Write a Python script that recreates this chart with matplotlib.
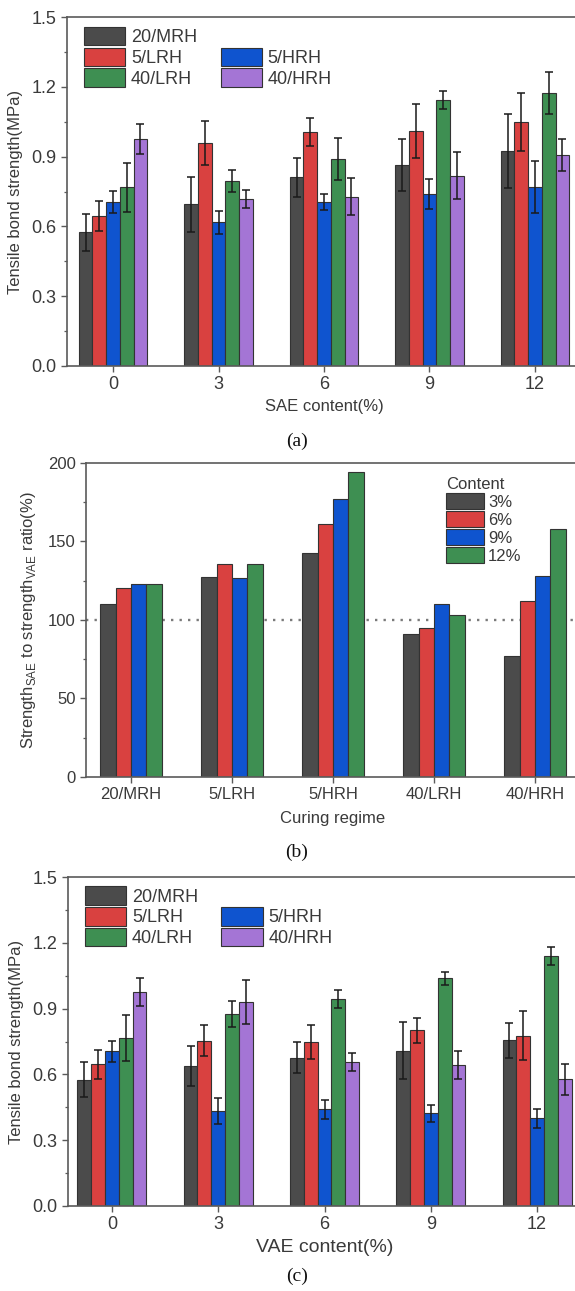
import numpy as np
import matplotlib.pyplot as plt
from matplotlib.patches import Patch
from matplotlib.ticker import MultipleLocator

plt.rcParams['font.family'] = ['Liberation Sans', 'DejaVu Sans']

# ---- data ----
regimes  = ['20/MRH', '5/LRH', '5/HRH', '40/LRH', '40/HRH']
contents = [0, 3, 6, 9, 12]

# tensile bond strength with SAE (MPa), one list per curing regime
sae_mrh20 = [0.575, 0.696, 0.811, 0.864, 0.924]
sae_lrh5  = [0.646, 0.957, 1.007, 1.010, 1.047]
sae_hrh5  = [0.705, 0.617, 0.705, 0.739, 0.769]
sae_lrh40 = [0.768, 0.795, 0.890, 1.143, 1.172]
sae_hrh40 = [0.975, 0.718, 0.728, 0.818, 0.907]

sae_err_mrh20 = [0.080, 0.118, 0.085, 0.110, 0.160]
sae_err_lrh5  = [0.065, 0.095, 0.060, 0.115, 0.125]
sae_err_hrh5  = [0.048, 0.050, 0.036, 0.065, 0.110]
sae_err_lrh40 = [0.105, 0.047, 0.092, 0.038, 0.090]
sae_err_hrh40 = [0.065, 0.040, 0.078, 0.100, 0.070]

# tensile bond strength with VAE (MPa)
vae_mrh20 = [0.575, 0.638, 0.676, 0.707, 0.756]
vae_lrh5  = [0.646, 0.754, 0.746, 0.801, 0.777]
vae_hrh5  = [0.705, 0.433, 0.440, 0.422, 0.399]
vae_lrh40 = [0.768, 0.874, 0.943, 1.039, 1.139]
vae_hrh40 = [0.975, 0.932, 0.656, 0.643, 0.577]

vae_err_mrh20 = [0.080, 0.093, 0.070, 0.130, 0.080]
vae_err_lrh5  = [0.065, 0.070, 0.078, 0.058, 0.110]
vae_err_hrh5  = [0.048, 0.058, 0.045, 0.040, 0.045]
vae_err_lrh40 = [0.105, 0.060, 0.042, 0.030, 0.040]
vae_err_hrh40 = [0.065, 0.100, 0.040, 0.062, 0.070]

# SAE / VAE strength ratio (%) for each content level
ratio_labels = ['3%', '6%', '9%', '12%']
ratio_3  = [110.1, 127.4, 142.7, 91.4, 77.3]
ratio_6  = [120.1, 135.9, 161.2, 94.6, 111.9]
ratio_9  = [123.1, 126.7, 176.9, 110.1, 128.1]
ratio_12 = [123.1, 135.4, 194.1, 103.2, 158.2]

colors = ['#4b4b4b', '#d94140', '#0f54cf', '#3e8f52', '#a475d5']
txt = '#3a3a3a'
spine_c = '#5a5a5a'

fig = plt.figure(figsize=(5.75, 12.91), dpi=100)


def style_axes(ax):
    for s in ['left', 'bottom', 'top', 'right']:
        ax.spines[s].set_color(spine_c)
        ax.spines[s].set_linewidth(1.2)
    ax.tick_params(axis='both', which='major', direction='out', length=4,
                   width=1.0, color=spine_c, labelcolor=txt)
    ax.tick_params(axis='y', which='minor', direction='out', length=2.5,
                   width=0.9, color=spine_c)
    ax.tick_params(axis='x', which='minor', bottom=False)


def strength_panel(rect, series, errs, xlabel, xlim, xlab_size):
    ax = fig.add_axes(rect)
    w = 0.39
    for i, (vals, err) in enumerate(zip(series, errs)):
        x = np.array(contents) + (i - 2) * w
        ax.bar(x, vals, width=w, color=colors[i], edgecolor='#333333',
               linewidth=0.8, label=regimes[i], zorder=2)
        ax.errorbar(x, vals, yerr=err, fmt='none', ecolor='#1a1a1a',
                    elinewidth=1.1, capsize=3, capthick=1.1, zorder=3)
    ax.set_xlim(*xlim)
    ax.set_ylim(0, 1.5)
    ax.set_xticks(contents)
    ax.set_yticks([0.0, 0.3, 0.6, 0.9, 1.2, 1.5])
    ax.yaxis.set_minor_locator(MultipleLocator(0.15))
    ax.set_yticklabels(['0.0', '0.3', '0.6', '0.9', '1.2', '1.5'])
    style_axes(ax)
    ax.tick_params(labelsize=13)
    ax.set_ylabel('Tensile bond strength(MPa)', fontsize=12, color=txt, labelpad=6)
    ax.set_xlabel(xlabel, fontsize=xlab_size, color=txt, labelpad=4)

    h, l = ax.get_legend_handles_labels()
    blank = Patch(facecolor='none', edgecolor='none', label=' ')
    hh = [h[0], h[1], h[3], blank, h[2], h[4]]
    ll = [l[0], l[1], l[3], ' ', l[2], l[4]]
    ax.legend(hh, ll, ncol=2, loc='upper left', bbox_to_anchor=(0.033, 0.972),
              frameon=False, fontsize=13, handlelength=2.3, handleheight=1.2,
              labelspacing=0.08, columnspacing=1.3, handletextpad=0.3,
              borderpad=0, borderaxespad=0, labelcolor=txt)
    return ax


# ---- (a) SAE ----
strength_panel([67/575, 1 - 366/1291, 514/575, 349/1291],
               [sae_mrh20, sae_lrh5, sae_hrh5, sae_lrh40, sae_hrh40],
               [sae_err_mrh20, sae_err_lrh5, sae_err_hrh5, sae_err_lrh40, sae_err_hrh40],
               'SAE content(%)', (-1.31, 13.31), 12)

# ---- (b) ratio ----
axb = fig.add_axes([86/575, 1 - 777/1291, 494/575, 314/1291])
bw = 0.152
xb = np.arange(len(regimes))
for j, vals in enumerate([ratio_3, ratio_6, ratio_9, ratio_12]):
    axb.bar(xb + (j - 1.5) * bw, vals, width=bw, color=colors[j],
            edgecolor='#333333', linewidth=0.8, label=ratio_labels[j], zorder=2)
axb.axhline(100, color='#7a7a7a', linestyle=(0, (1, 2.6)), linewidth=1.7, zorder=1)
axb.set_xlim(-0.446, 4.446)
axb.set_ylim(0, 200)
axb.set_xticks(xb)
axb.set_xticklabels(regimes)
axb.set_yticks([0, 50, 100, 150, 200])
axb.yaxis.set_minor_locator(MultipleLocator(25))
style_axes(axb)
axb.tick_params(labelsize=12)
axb.set_ylabel(r'Strength$_{\mathregular{SAE}}$ to strength$_{\mathregular{VAE}}$ ratio(%)',
               fontsize=12, color=txt, labelpad=7)
axb.set_xlabel('Curing regime', fontsize=12, color=txt, labelpad=6)
axb.legend(title='Content', loc='upper left', bbox_to_anchor=(0.728, 0.955),
           frameon=False, fontsize=12, title_fontsize=12, handlelength=2.3,
           handleheight=1.1, labelspacing=0.08, handletextpad=0.25,
           borderpad=0, borderaxespad=0, alignment='left', labelcolor=txt)
axb.get_legend().get_title().set_color(txt)

# ---- (c) VAE ----
strength_panel([68/575, 1 - 1206/1291, 513/575, 329/1291],
               [vae_mrh20, vae_lrh5, vae_hrh5, vae_lrh40, vae_hrh40],
               [vae_err_mrh20, vae_err_lrh5, vae_err_hrh5, vae_err_lrh40, vae_err_hrh40],
               'VAE content(%)', (-1.24, 13.24), 14)

# captions
for lab, yy in [('(a)', 441), ('(b)', 852), ('(c)', 1276)]:
    fig.text(297/575, 1 - yy/1291, lab, ha='center', va='center', fontsize=14,
             family=['Liberation Serif', 'DejaVu Serif'], color='#111111')

fig.savefig('out.png', dpi=100, facecolor='white')
